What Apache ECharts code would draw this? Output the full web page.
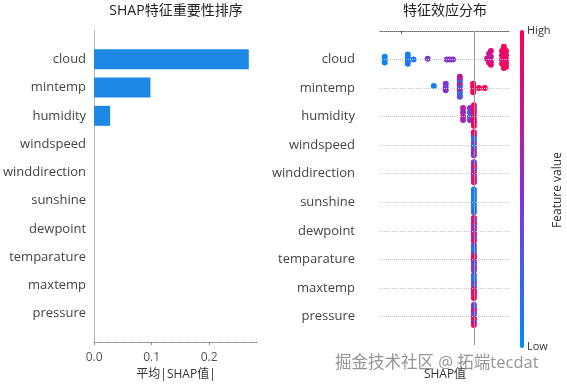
<!DOCTYPE html>
<html><head><meta charset="utf-8">
<script src="https://cdn.jsdelivr.net/npm/echarts@6/dist/echarts.min.js"></script>
<style>html,body{margin:0;padding:0;background:#fff;}#c{width:567px;height:386px;}</style>
</head><body><div id="c"></div>
<script>
// ---- data ----
var features = ['cloud','mintemp','humidity','windspeed','winddirection','sunshine','dewpoint','temparature','maxtemp','pressure'];
var meanAbsShap = [0.269, 0.098, 0.028, 0, 0, 0, 0, 0, 0, 0];
var importanceTicks = [0, 0.1, 0.2];
var shapTicks = [-0.2, 0];
// each point: [shap value, vertical jitter within the row, normalised feature value]
var cloudPts = [
  [-0.247,-0.1,0.02],[-0.247,0,0.05],[-0.247,0.1,0.03],
  [-0.183,-0.18,0.08],[-0.183,-0.07,0.1],[-0.183,0.04,0.06],[-0.183,0.15,0.12],
  [-0.167,0,0.12],[-0.128,-0.03,0.42],
  [-0.075,0,0.45],[-0.067,0,0.48],[-0.058,0,0.5],
  [0.036,-0.03,0.78],[0.042,-0.2,0.72],[0.042,0.1,0.8],
  [0.047,-0.3,0.85],[0.047,-0.1,0.7],[0.047,0.08,0.82],[0.047,0.18,0.88],
  [0.078,-0.3,0.92],[0.078,-0.15,0.95],[0.078,0,0.9],[0.078,0.15,0.97],
  [0.083,-0.45,0.98],[0.083,-0.35,0.95],[0.083,-0.2,0.75],[0.083,-0.08,0.9],[0.083,0.05,0.7],[0.083,0.18,0.96],[0.083,0.3,0.93],
  [0.089,-0.3,0.99],[0.089,-0.15,0.94],[0.089,0,0.96],[0.089,0.12,0.9],[0.089,0.25,0.97]
];
var mintempPts = [
  [-0.111,-0.07,0.08],
  [-0.078,-0.15,0.45],[-0.078,-0.02,0.4],[-0.078,0.08,0.5],
  [-0.039,-0.4,0.8],[-0.039,-0.3,0.7],[-0.039,-0.2,0.2],[-0.039,-0.1,0.75],[-0.039,0,0.25],[-0.039,0.1,0.65],[-0.039,0.2,0.15],[-0.039,0.3,0.3],
  [-0.002,-0.15,0.95],[-0.002,-0.05,0.98],[-0.002,0.05,0.92],[-0.002,0.15,0.96],
  [0.014,0,0.95],[0.030,0,0.97]
];
var humidityPts = [
  [-0.030,-0.3,0.7],[-0.030,-0.15,0.55],[-0.030,0,0.75],[-0.030,0.12,0.6],
  [-0.011,-0.3,0.5],[-0.011,-0.15,0.3],[-0.011,0,0.1],[-0.011,0.12,0.45],
  [0,-0.4,0.95],[0,-0.28,0.9],[0,-0.16,0.98],[0,-0.04,0.92],[0,0.08,0.96],[0,0.2,0.9],[0,0.32,0.97]
];
var windspeedPts = [[0,-0.45,0.95],[0,-0.35,0.9],[0,-0.25,0.3],[0,-0.15,0.1],[0,-0.05,0.5],[0,0.05,0.2],[0,0.15,0.45],[0,0.25,0.55],[0,0.35,0.5]];
var winddirectionPts = [[0,-0.4,0.45],[0,-0.3,0.6],[0,-0.2,0.85],[0,-0.1,0.5],[0,0,0.95],[0,0.1,0.7],[0,0.2,0.9],[0,0.3,0.8]];
var sunshinePts = [[0,-0.45,0.05],[0,-0.35,0.1],[0,-0.25,0.03],[0,-0.15,0.08],[0,-0.05,0.02],[0,0.05,0.12],[0,0.15,0.06],[0,0.25,0.1],[0,0.35,0.15]];
var dewpointPts = [[0,-0.45,0.95],[0,-0.35,0.6],[0,-0.25,0.9],[0,-0.15,0.45],[0,-0.05,0.75],[0,0.05,0.5],[0,0.15,0.92],[0,0.25,0.55],[0,0.35,0.9]];
var temparaturePts = [[0,-0.5,0.4],[0,-0.4,0.2],[0,-0.3,0.1],[0,-0.2,0.35],[0,-0.1,0.95],[0,0,0.98],[0,0.1,0.5],[0,0.2,0.3],[0,0.3,0.6],[0,0.38,0.4]];
var maxtempPts = [[0,-0.45,0.3],[0,-0.35,0.1],[0,-0.25,0.15],[0,-0.15,0.45],[0,-0.05,0.2],[0,0.05,0.9],[0,0.15,0.95],[0,0.25,0.85],[0,0.35,0.97]];
var pressurePts = [[0,-0.4,0.45],[0,-0.3,0.35],[0,-0.2,0.9],[0,-0.1,0.5],[0,0,0.4],[0,0.1,0.95],[0,0.2,0.55],[0,0.3,0.9]];
var rowPoints = [cloudPts, mintempPts, humidityPts, windspeedPts, winddirectionPts, sunshinePts, dewpointPts, temparaturePts, maxtempPts, pressurePts];

// ---- build ----
var FONT = "'Open Sans','Noto Sans CJK SC',sans-serif";
var barCats = [''].concat(features).concat(['']);
var barData = ['-'].concat(meanAbsShap).concat(['-']);
var dots = [];
rowPoints.forEach(function (pts, i) {
  pts.forEach(function (p) { dots.push([p[0], i + 1 + p[1], p[2]]); });
});

var chart = echarts.init(document.getElementById('c'), null, {renderer: 'canvas'});
chart.setOption({
  animation: false,
  textStyle: {fontFamily: FONT},
  grid: [
    {left: 93, top: 31, width: 165, height: 318},
    {left: 380, top: 31, width: 130, height: 318}
  ],
  xAxis: [
    {gridIndex: 0, type: 'value', min: 0, max: 0.285,
     axisLine: {show: true, lineStyle: {color: '#888', type: 'dotted'}},
     axisTick: {show: true, length: 3, customValues: importanceTicks, lineStyle: {color: '#888'}},
     axisLabel: {customValues: importanceTicks, color: '#555', fontSize: 12, margin: 10, fontFamily: FONT,
                 formatter: function (v) { return v.toFixed(1); }},
     splitLine: {show: false},
     name: '平均|SHAP值|', nameLocation: 'middle', nameGap: 27,
     nameTextStyle: {color: '#333', fontSize: 12, fontFamily: FONT}},
    {gridIndex: 1, type: 'value', min: -0.26, max: 0.1,
     axisLine: {show: true, lineStyle: {color: '#666', type: 'dotted'}},
     axisTick: {show: true, length: 3, customValues: shapTicks, lineStyle: {color: '#666'}},
     axisLabel: {show: false},
     splitLine: {show: false},
     name: 'SHAP值', nameLocation: 'middle', nameGap: 24,
     nameTextStyle: {color: '#333', fontSize: 12, fontFamily: FONT}}
  ],
  yAxis: [
    {gridIndex: 0, type: 'category', data: barCats, inverse: true, boundaryGap: false,
     axisLine: {show: true, lineStyle: {color: '#aaa', type: 'dotted'}},
     axisTick: {show: false},
     axisLabel: {interval: 0, color: '#444', fontSize: 13, margin: 8, fontFamily: FONT, padding: [5, 0, 0, 0]}},
    {gridIndex: 1, type: 'value', min: 0, max: 11, interval: 1, inverse: true,
     axisLine: {show: false}, axisTick: {show: false}, splitLine: {show: false},
     axisLabel: {color: '#444', fontSize: 13, margin: 25, fontFamily: FONT, padding: [5, 0, 0, 0],
                 formatter: function (v) { return (v >= 1 && v <= features.length) ? features[v - 1] : ''; }}}
  ],
  visualMap: {
    type: 'continuous', min: 0, max: 1, dimension: 2, seriesIndex: [2],
    left: 520, top: 30, itemWidth: 4, itemHeight: 318, padding: 0,
    calculable: false, text: null, hoverLink: false,
    inRange: {color: ['#008bfb', '#8a2fd0', '#ff0052']}
  },
  series: [
    {type: 'bar', xAxisIndex: 0, yAxisIndex: 0, data: barData, barWidth: 20,
     itemStyle: {color: '#1e88e5'}, silent: true},
    {type: 'scatter', xAxisIndex: 1, yAxisIndex: 1, data: [], silent: true,
     markLine: {silent: true, symbol: ['none', 'none'], label: {show: false},
       data: features.map(function (f, i) {
         return {yAxis: i + 1, lineStyle: {color: '#ccc', type: 'dotted', width: 1}};
       }).concat([{xAxis: 0, lineStyle: {color: '#999', type: 'solid', width: 1}}])}},
    {type: 'scatter', xAxisIndex: 1, yAxisIndex: 1, data: dots, symbolSize: 6,
     itemStyle: {opacity: 1, borderWidth: 0, borderColor: 'transparent'}, silent: true}
  ],
  graphic: [
    {type: 'text', x: 176, y: 11, style: {text: 'SHAP特征重要性排序', fill: '#222', font: '14px ' + FONT, textAlign: 'center', textVerticalAlign: 'middle'}},
    {type: 'text', x: 445, y: 11, style: {text: '特征效应分布', fill: '#222', font: '14px ' + FONT, textAlign: 'center', textVerticalAlign: 'middle'}},
    {type: 'text', x: 527, y: 31, style: {text: 'High', fill: '#333', font: '11px ' + FONT, textAlign: 'left', textVerticalAlign: 'middle'}},
    {type: 'text', x: 527, y: 347, style: {text: 'Low', fill: '#333', font: '11px ' + FONT, textAlign: 'left', textVerticalAlign: 'middle'}},
    {type: 'text', x: 558, y: 190, rotation: Math.PI / 2, style: {text: 'Feature value', fill: '#333', font: '12px ' + FONT, textAlign: 'center', textVerticalAlign: 'middle'}},
    {type: 'text', x: 335, y: 363, z: 100, style: {text: '掘金技术社区 @ 拓端tecdat', fill: 'rgba(130,130,130,0.85)', font: '16.5px ' + FONT, textAlign: 'left', textVerticalAlign: 'middle'}}
  ]
});
</script></body></html>
